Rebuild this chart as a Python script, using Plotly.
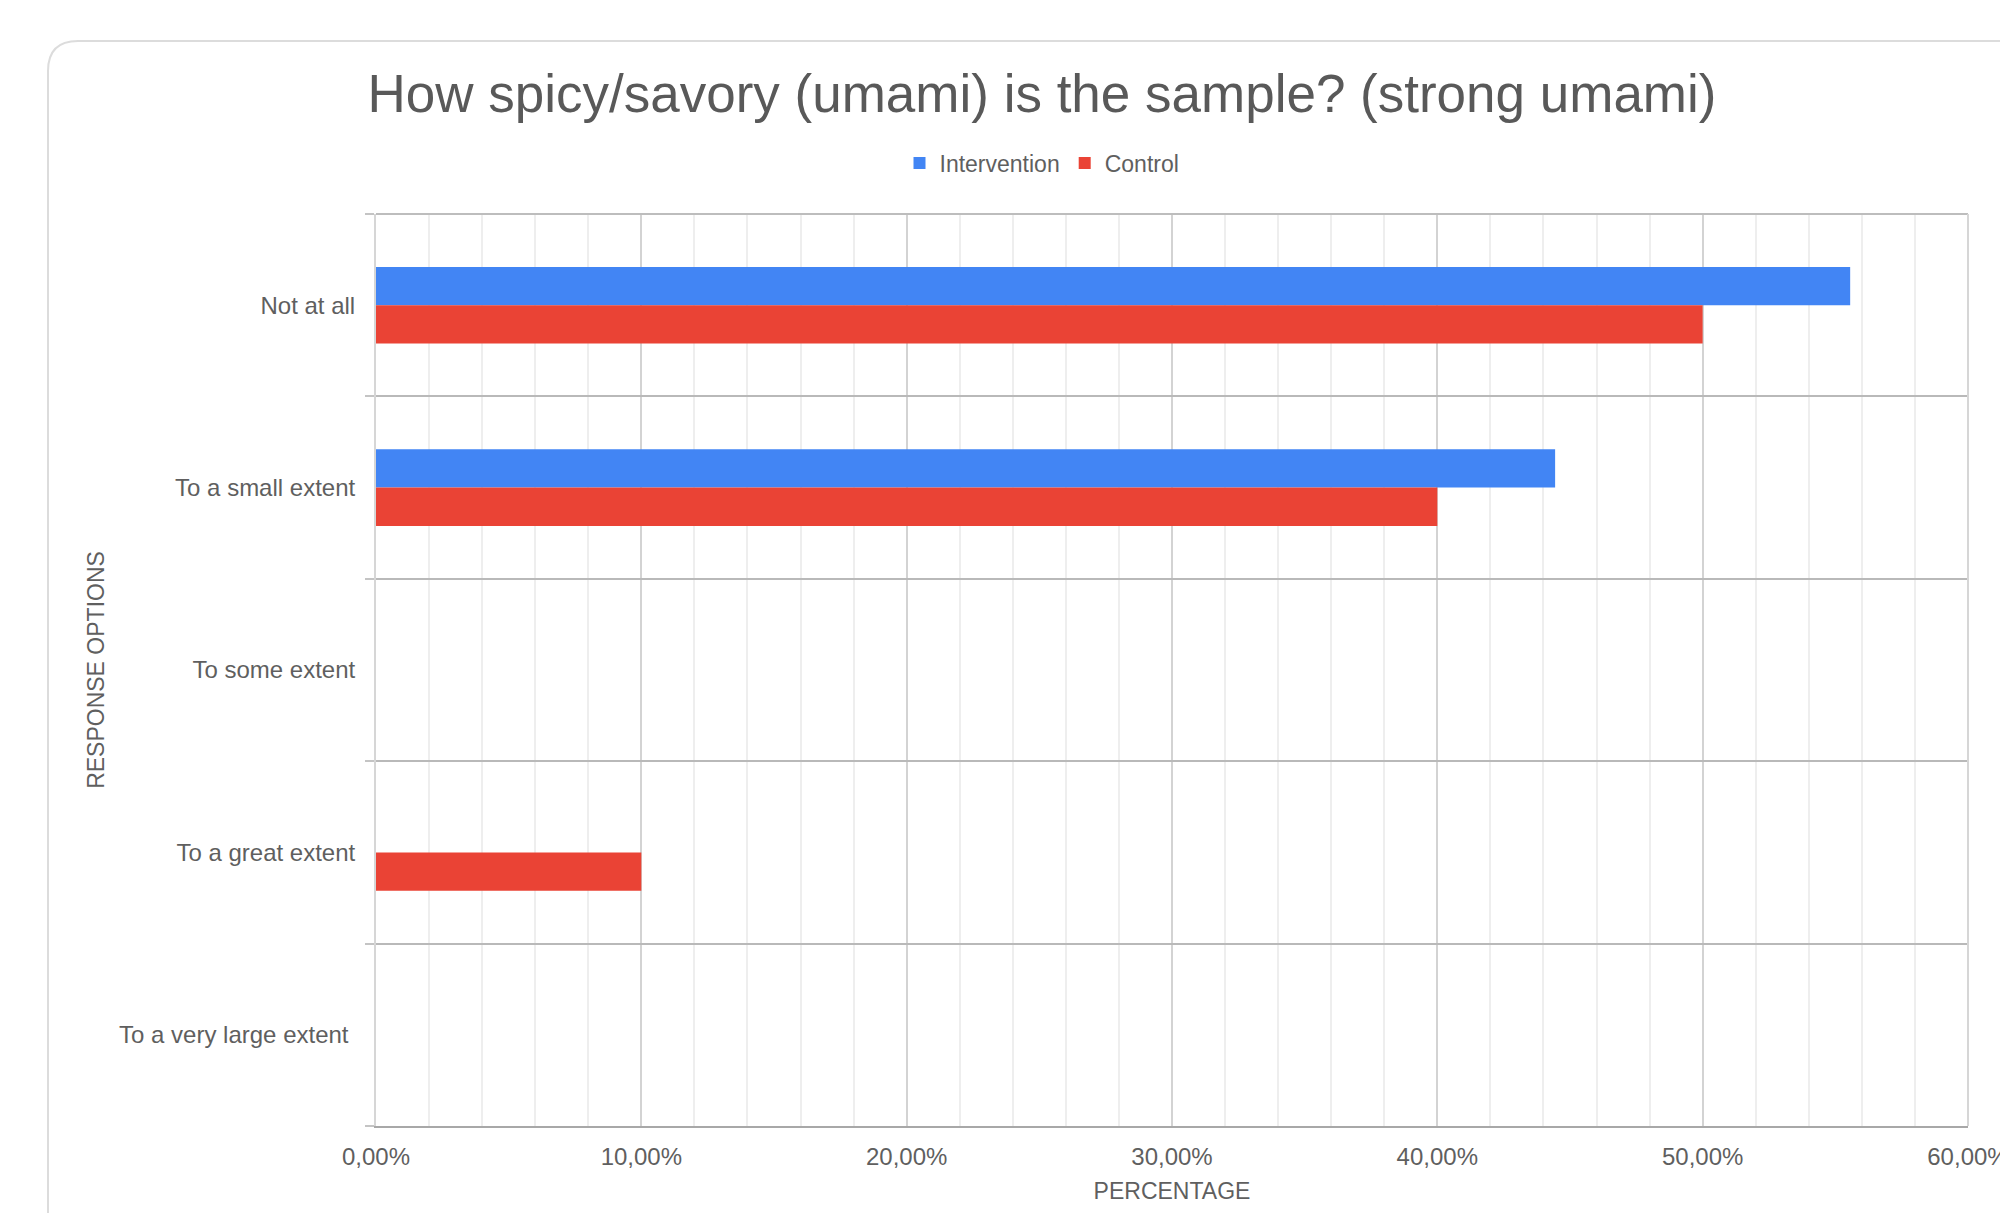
import plotly.graph_objects as go

# Survey responses (share of respondents per answer)
categories = [
    "Not at all",
    "To a small extent",
    "To some extent",
    "To a great extent",
    "To a very large extent",
]
tick_labels = [
    "Not at all",
    "To a small extent",
    "To some extent",
    "To a great extent",
    "To a very large extent\u00a0",
]
intervention = [0.5556, 0.4444, 0.0, 0.0, 0.0]
control = [0.50, 0.40, 0.0, 0.10, 0.0]
x_ticks = [0.0, 0.1, 0.2, 0.3, 0.4, 0.5, 0.6]

FONT = "Arial, 'Liberation Sans', sans-serif"
TEXT = "#5f5f5f"

fig = go.Figure()
fig.add_trace(go.Bar(
    y=categories, x=intervention, name="Intervention", orientation="h",
    marker=dict(color="#4285F4", line=dict(width=0)),
))
fig.add_trace(go.Bar(
    y=categories, x=control, name="Control", orientation="h",
    marker=dict(color="#EA4335", line=dict(width=0)),
))

# Card outline with a rounded top-left corner (plot area: x 376..1968, y 214..1126 px)
pw, ph = 1592.0, 912.0
cx0 = (48 - 376) / pw
cy0 = (1126 - 41) / ph
rx, ry = 30 / pw, 30 / ph
card_path = (
    f"M {cx0},-0.2 L {cx0},{cy0 - ry} "
    f"Q {cx0},{cy0} {cx0 + rx},{cy0} L 1.2,{cy0}"
)

fig.update_layout(
    width=2000, height=1213,
    margin=dict(l=376, r=32, t=214, b=87, autoexpand=False),
    paper_bgcolor="white", plot_bgcolor="white",
    separators=",.",
    font=dict(family=FONT, color=TEXT, size=24),
    title=dict(
        text="How spicy/savory (umami) is the sample? (strong umami)",
        x=1042 / 2000, xanchor="center", xref="container",
        y=(1213 - 93) / 1213, yanchor="middle", yref="container",
        font=dict(family=FONT, size=53, color="#595959"),
    ),
    barmode="group", bargap=0.58, bargroupgap=0.0,
    showlegend=True,
    legend=dict(
        orientation="h", x=(1042 - 376) / pw, xanchor="center",
        y=(1126 - 163) / ph, yanchor="middle",
        font=dict(family=FONT, size=23, color=TEXT),
        itemclick=False, traceorder="normal",
    ),
    xaxis=dict(
        range=[0, 0.60001], tickvals=x_ticks, tickformat=".2%",
        ticklabeloverflow="allow",
        showgrid=True, gridcolor="#d3d3d3", gridwidth=1.5,
        minor=dict(dtick=0.02, showgrid=True, gridcolor="#eeeeee", gridwidth=1.5),
        showline=True, linecolor="#a8a8a8", linewidth=2,
        ticks="", zeroline=False, ticklabelstandoff=8,
        tickfont=dict(family=FONT, size=24, color=TEXT),
        title=dict(text="PERCENTAGE", standoff=14,
                   font=dict(family=FONT, size=23, color=TEXT)),
        fixedrange=True,
    ),
    yaxis=dict(
        categoryorder="array", categoryarray=categories,
        tickvals=categories, ticktext=tick_labels,
        autorange="reversed", tickson="boundaries",
        showgrid=True, gridcolor="#b9b9b9", gridwidth=2,
        ticks="outside", ticklen=9, tickcolor="#c4c4c4", tickwidth=2,
        showline=True, linecolor="#d6d6d6", linewidth=2,
        ticklabelstandoff=14,
        tickfont=dict(family=FONT, size=24, color=TEXT),
        title=dict(text="RESPONSE OPTIONS", standoff=8,
                   font=dict(family=FONT, size=23, color=TEXT)),
        zeroline=False, fixedrange=True,
    ),
    shapes=[
        dict(type="path", xref="paper", yref="paper", path=card_path,
             line=dict(color="#dcdcdc", width=2), layer="below"),
        dict(type="line", xref="paper", yref="paper", x0=0, x1=1, y0=1, y1=1,
             line=dict(color="#bdbdbd", width=2)),
        dict(type="line", xref="paper", yref="paper", x0=1, x1=1, y0=0, y1=1,
             line=dict(color="#d6d6d6", width=2)),
    ],
)

fig.write_html("out.html")
